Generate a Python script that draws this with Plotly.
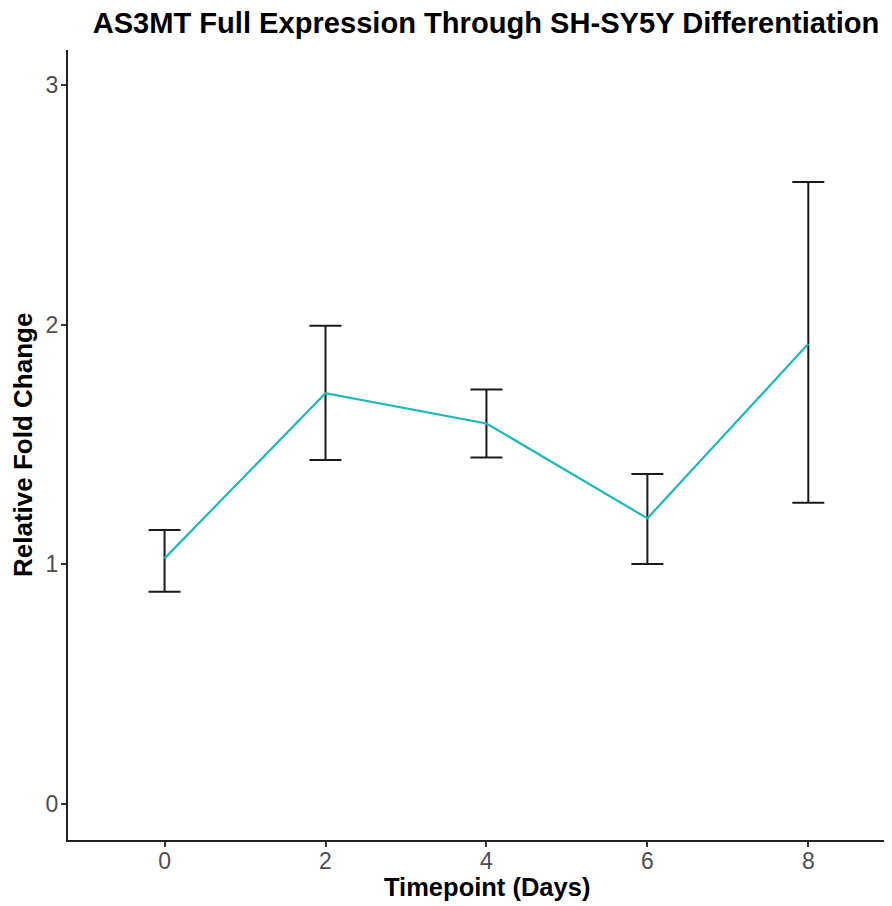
import plotly.graph_objects as go

days = [0, 2, 4, 6, 8]
fold_change = [1.025, 1.714, 1.588, 1.192, 1.920]
err_upper = [0.118, 0.282, 0.142, 0.185, 0.675]
err_lower = [0.139, 0.279, 0.142, 0.191, 0.663]

x_ticks = [0, 2, 4, 6, 8]
y_ticks = [0, 1, 2, 3]

# the page body adds an 8px offset, so the figure is laid out 8px smaller
OFF = 8
W, H = 892 - OFF, 906 - OFF
L, R, T, B = 68 - OFF, 0, 50 - OFF, 906 - 840
PW, PH = W - L - R, H - T - B

fig = go.Figure()
fig.add_trace(go.Scatter(
    x=days, y=fold_change, mode="lines",
    line=dict(color="#1DB8B8", width=2.2),
    error_y=dict(type="data", symmetric=False, array=err_upper, arrayminus=err_lower,
                 color="#1a1a1a", thickness=2, width=16),
    showlegend=False, hoverinfo="x+y",
))

font_family = "Liberation Sans, Arial, sans-serif"
fig.update_layout(
    width=W, height=H,
    margin=dict(l=L, r=R, t=T, b=B, autoexpand=False),
    plot_bgcolor="white", paper_bgcolor="white",
    font=dict(family=font_family),
    title=dict(text="<b>AS3MT Full Expression Through SH-SY5Y Differentiation</b>",
               x=(486 - OFF) / W, xref="container", xanchor="center",
               y=1 - (23 - OFF) / H, yref="container", yanchor="middle",
               font=dict(size=29.1, color="black", family=font_family)),
    annotations=[
        dict(text="<b>Timepoint (Days)</b>", xref="paper", yref="paper",
             x=(487 - 68) / PW, y=-(887 - 840) / PH, xanchor="center", yanchor="middle",
             showarrow=False, font=dict(size=25.5, color="black", family=font_family)),
        dict(text="<b>Relative Fold Change</b>", xref="paper", yref="paper",
             x=-(68 - 23) / PW, y=0.5, xanchor="center", yanchor="middle", textangle=-90,
             showarrow=False, font=dict(size=26, color="black", family=font_family)),
    ],
)
fig.update_xaxes(
    range=[-1.2, 9.04], tickvals=x_ticks, ticktext=[str(t) for t in x_ticks],
    showgrid=False, zeroline=False, showline=True, linecolor="#222", linewidth=2,
    ticks="outside", ticklen=5, tickwidth=1.5, tickcolor="#333",
    tickfont=dict(size=23, color="#4D4D4D"), automargin=False, ticklabelstandoff=-6,
)
fig.update_yaxes(
    range=[-0.15, 3.146], tickvals=y_ticks, ticktext=[str(t) for t in y_ticks],
    showgrid=False, zeroline=False, showline=True, linecolor="#222", linewidth=2,
    ticks="outside", ticklen=5, tickwidth=1.5, tickcolor="#333",
    tickfont=dict(size=23, color="#4D4D4D"), automargin=False, ticklabelstandoff=-2,
)
fig.write_html("out.html")
